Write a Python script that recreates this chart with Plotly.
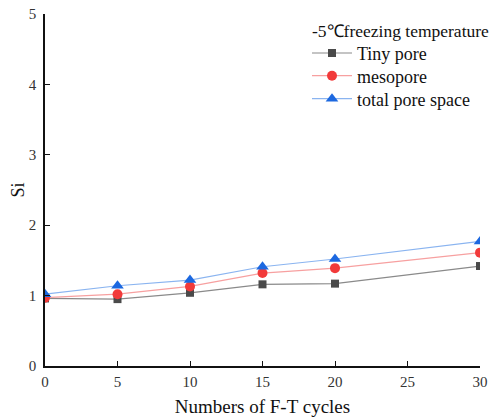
import plotly.graph_objects as go

cycles = [0, 5, 10, 15, 20, 30]
tiny_pore = [0.96, 0.95, 1.04, 1.16, 1.17, 1.42]
mesopore = [0.97, 1.02, 1.13, 1.32, 1.39, 1.61]
total_pore = [1.02, 1.14, 1.22, 1.41, 1.52, 1.77]
x_ticks = [0, 5, 10, 15, 20, 25, 30]
y_ticks = [0, 1, 2, 3, 4, 5]

series = [
    ("Tiny pore", tiny_pore, "#4a4a4a", "#8a8a8a", "square", 8),
    ("mesopore", mesopore, "#f23a3a", "#f7a0a0", "circle", 10),
    ("total pore space", total_pore, "#1c68e0", "#8ab4f0", "triangle-up", 11),
]

font = "Liberation Serif, Times New Roman, serif"
W, H = 489, 410
L, R, T, B = 37, 17, 6, 52
pw, ph = W - L - R, H - T - B

legend_names = ["legend", "legend2", "legend3"]
legend_rows = [45.3, 68.0, 91.0]

fig = go.Figure()
for (name, vals, mc, lc, sym, sz), lg in zip(series, legend_names):
    fig.add_trace(go.Scatter(
        x=cycles, y=vals, name=name, mode="lines+markers",
        line=dict(color=lc, width=1.2),
        marker=dict(color=mc, symbol=sym, size=sz),
        legend=lg,
    ))

fig.add_annotation(
    text="-5\u2103freezing temperature", xref="paper", yref="paper",
    x=(302 - L) / pw, y=(H - B - 23) / ph, xanchor="left", yanchor="middle",
    showarrow=False, font=dict(size=17.5, family=font, color="#111"),
)

legend_style = dict(
    bgcolor="rgba(0,0,0,0)", font=dict(size=18, family=font, color="#111"),
    itemwidth=40, xanchor="left", yanchor="middle",
)
layout_legends = {}
for lg, row in zip(legend_names, legend_rows):
    layout_legends[lg] = dict(x=(299 - L) / pw, y=(H - B - row) / ph, **legend_style)

fig.update_layout(
    width=W, height=H,
    margin=dict(l=L, r=R, t=T, b=B, autoexpand=False),
    paper_bgcolor="white", plot_bgcolor="white",
    font=dict(family=font, size=15, color="#222"),
    showlegend=True,
    xaxis=dict(
        range=[0, 30], tickvals=x_ticks, automargin=False,
        showgrid=False, zeroline=False,
        showline=True, linecolor="#111", linewidth=1.5,
        ticks="inside", ticklen=5, tickcolor="#111", tickwidth=1.2,
        ticklabelstandoff=1, ticklabeloverflow="allow",
        tickfont=dict(size=15, family=font, color="#333"),
        title=dict(text="Numbers of F-T cycles", font=dict(size=19, family=font, color="#111"), standoff=11),
    ),
    yaxis=dict(
        range=[0, 5], tickvals=y_ticks, automargin=False,
        showgrid=False, zeroline=False,
        showline=True, linecolor="#111", linewidth=1.5,
        ticks="inside", ticklen=5, tickcolor="#111", tickwidth=1.2,
        ticklabelstandoff=4, ticklabeloverflow="allow",
        tickfont=dict(size=15, family=font, color="#333"),
        title=dict(text="Si", font=dict(size=18, family=font, color="#111"), standoff=5),
    ),
    **layout_legends,
)

fig.write_html("out.html")
